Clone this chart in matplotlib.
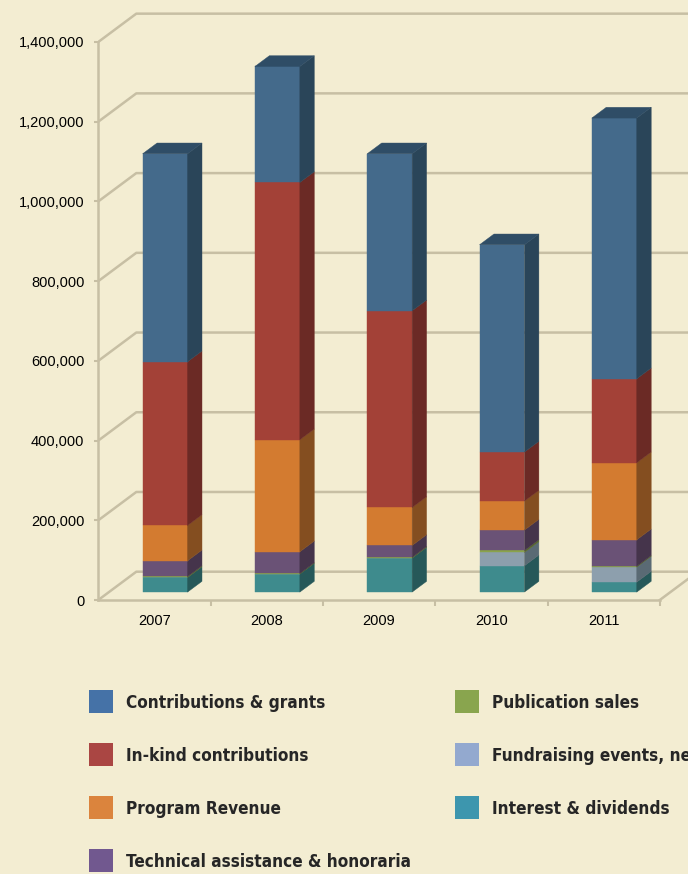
import numpy as np
import matplotlib
matplotlib.use("Agg")
import matplotlib.pyplot as plt
from matplotlib.patches import Polygon, Rectangle
from matplotlib.ticker import FuncFormatter, FixedLocator

# ---------------- data ----------------
years = ["2007", "2008", "2009", "2010", "2011"]
contributions = [521800, 291000, 393900, 520100, 654100]
in_kind = [410700, 645500, 493500, 122900, 210700]
program = [88600, 281000, 95300, 72800, 193200]
technical = [39400, 54400, 29600, 51100, 66500]
publication = [2500, 1500, 2000, 5000, 2000]
fundraising = [0, 0, 0, 33400, 37600]
interest = [36600, 45200, 85300, 66000, 25100]
y_ticks = [0, 200000, 400000, 600000, 800000, 1000000, 1200000, 1400000]

legend_labels = ["Contributions & grants", "In-kind contributions", "Program Revenue",
                 "Technical assistance & honoraria", "Publication sales",
                 "Fundraising events, net", "Interest & dividends"]
legend_colors = ["#4572A7", "#AA4643", "#DB843D", "#71588F", "#89A54E", "#93A9CF", "#3D96AE"]

# stacking from bottom to top: (values, front colour, side colour)
stack = [
    (interest, "#3E8B8D", "#265859"),
    (fundraising, "#8D9FAD", "#5A6A74"),
    (publication, "#8AA34C", "#56662F"),
    (technical, "#6A5276", "#45344B"),
    (program, "#D37B30", "#844E20"),
    (in_kind, "#A34137", "#6B2A25"),
    (contributions, "#446A8B", "#2A4559"),
]
top_color = "#2F4D66"

# ---------------- layout ----------------
W_PX, H_PX = 688, 874
BG = "#F3EDD2"
GRID = "#C7BFA4"
fig = plt.figure(figsize=(W_PX / 100, H_PX / 100), dpi=100, facecolor=BG)

x0_px, y0_px = 98.3, 600.0
cat_px = 112.3
px_per_unit = 398.6e-6
ax = fig.add_axes([x0_px / W_PX, (H_PX - y0_px) / H_PX,
                   (W_PX - x0_px) / W_PX, y0_px / H_PX])
ax.set_facecolor(BG)
ax.set_xlim(0, (W_PX - x0_px) / cat_px)
ax.set_ylim(0, y0_px / px_per_unit)

DX = 38.0 / cat_px           # depth offset (category units)
DY = 28.3 / px_per_unit      # depth offset (value units)
F = 0.28                     # front of bars, fraction of depth
D = 0.38                     # bar depth, fraction of depth
BW = 0.40                    # bar width (category units)
n = len(years)

# back wall grid lines and side wall diagonals
for v in y_ticks:
    ax.plot([0, DX, n + DX + 1], [v, v + DY, v + DY], color=GRID, lw=1.8,
            zorder=1, solid_capstyle="butt")
# floor right edge
ax.plot([n, n + DX], [0, DY], color=GRID, lw=1.8, zorder=1)

# spines / axes
for s in ["top", "right"]:
    ax.spines[s].set_visible(False)
ax.spines["left"].set_bounds(0, 1400000)
ax.spines["bottom"].set_bounds(0, n)
for s in ["left", "bottom"]:
    ax.spines[s].set_color(GRID)
    ax.spines[s].set_linewidth(1.8)
    ax.spines[s].set_zorder(2)

ax.yaxis.set_major_locator(FixedLocator(y_ticks))
ax.yaxis.set_major_formatter(FuncFormatter(lambda v, p: f"{int(v):,}"))
ax.tick_params(axis="y", length=3, width=1.5, color=GRID, pad=7,
               labelsize=10.5, labelcolor="black")
centers = np.arange(n) + 0.5
ax.set_xticks(centers)
ax.set_xticklabels(years)
ax.set_xticks(np.arange(1, n + 1), minor=True)
ax.tick_params(axis="x", which="major", length=0, pad=10, labelsize=10.5,
               labelcolor="black")
ax.tick_params(axis="x", which="minor", length=4, width=1.5, color=GRID)
for lab in ax.get_xticklabels() + ax.get_yticklabels():
    lab.set_family(["Liberation Sans", "DejaVu Sans"])

# bars
x_front = centers + F * DX
bottom = np.zeros(n)
for vals, fc, sc in stack:
    vals = np.asarray(vals, dtype=float)
    ax.bar(x_front, vals, BW, bottom=bottom + F * DY, color=fc,
           edgecolor=fc, lw=0.3, zorder=3)
    for i in range(n):
        if vals[i] <= 0:
            continue
        xr = x_front[i] + BW / 2
        y0 = bottom[i] + F * DY
        y1 = y0 + vals[i]
        ax.add_patch(Polygon([(xr, y0), (xr + D * DX, y0 + D * DY),
                              (xr + D * DX, y1 + D * DY), (xr, y1)],
                             closed=True, facecolor=sc, edgecolor=sc, lw=0.3,
                             zorder=3))
    bottom += vals
for i in range(n):
    xl = x_front[i] - BW / 2
    xr = x_front[i] + BW / 2
    yt = bottom[i] + F * DY
    ax.add_patch(Polygon([(xl, yt), (xl + D * DX, yt + D * DY),
                          (xr + D * DX, yt + D * DY), (xr, yt)],
                         closed=True, facecolor=top_color, edgecolor=top_color,
                         lw=0.3, zorder=3))

# legend (manual, two columns)
legend_font = ["DejaVu Sans"]
col_x = [89, 455]
row_y = [690, 743, 796, 849]
sq = 24
for k, (lab, col) in enumerate(zip(legend_labels, legend_colors)):
    c = 0 if k < 4 else 1
    r = k if k < 4 else k - 4
    x = col_x[c]
    y = row_y[r]
    fig.patches.append(Rectangle((x / W_PX, 1 - (y + sq - 1) / H_PX), sq / W_PX,
                                 (sq - 1) / H_PX, transform=fig.transFigure,
                                 facecolor=col, edgecolor="none"))
    fig.text((x + 37) / W_PX, 1 - (y + 13) / H_PX, lab, ha="left", va="center",
             fontsize=12.3, fontweight="bold", fontstretch="condensed",
             family=legend_font, color="#262626")

fig.savefig("out.png", dpi=100, facecolor=BG)
